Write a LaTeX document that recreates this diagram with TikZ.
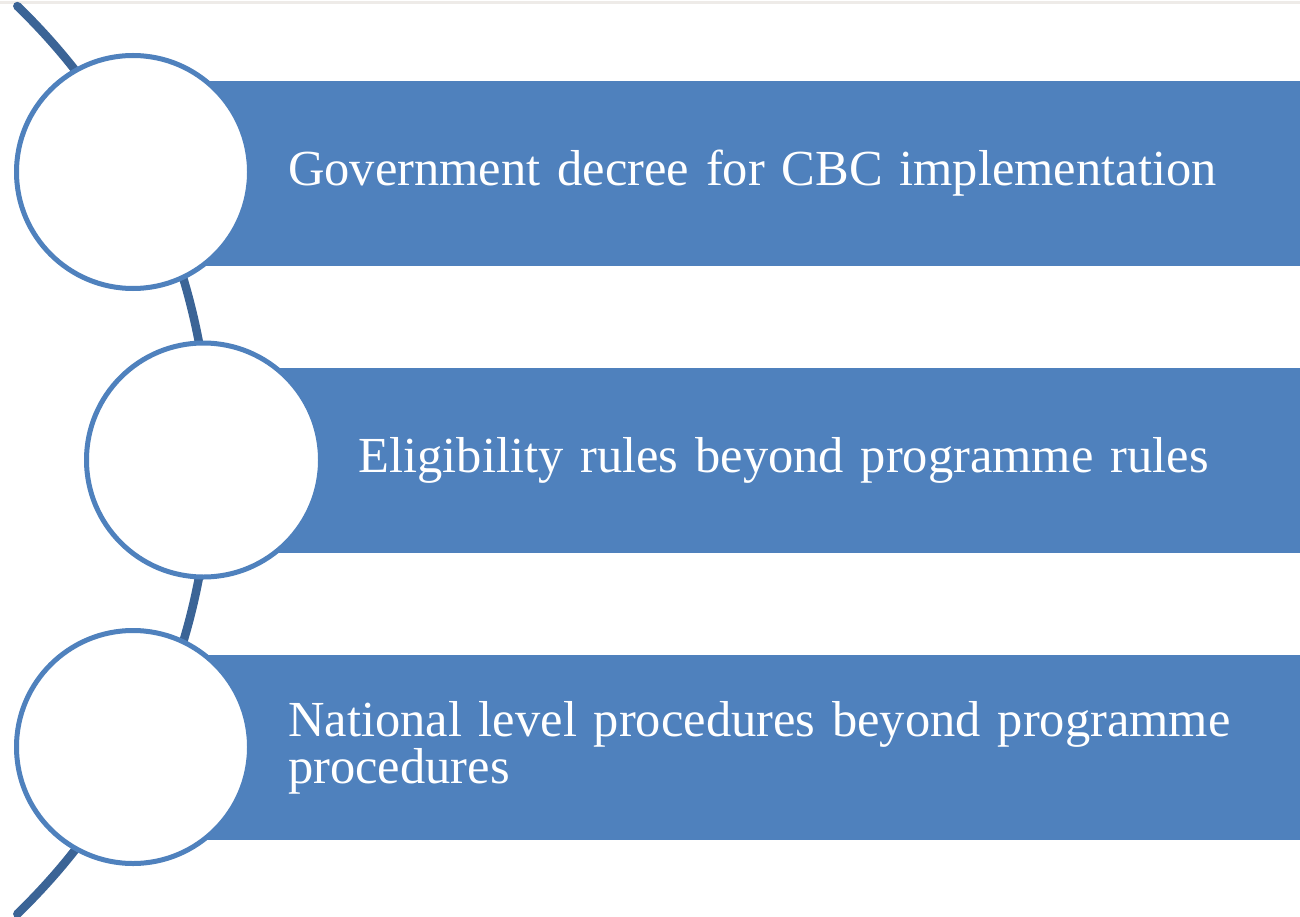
\documentclass[tikz,border=0pt]{standalone}
\usepackage{fontspec}
\setmainfont{Liberation Serif}[WordSpace=0.65]
\definecolor{barblue}{RGB}{79,129,189}
\definecolor{spineblue}{RGB}{59,100,150}
\definecolor{rulegrey}{RGB}{238,235,232}

\begin{document}
\begin{tikzpicture}[
  x=1pt, y=-1pt,
  bar/.style={fill=barblue, anchor=west, minimum height=185pt, inner sep=0pt},
  disc/.style={circle, draw=barblue, line width=5pt, fill=white, inner sep=0pt},
  itemtext/.style={anchor=west, text=white, text width=1000pt, align=left, inner sep=0pt,
    font=\fontsize{50.5}{47}\selectfont},
  spine/.style={draw=spineblue, line width=8.5pt, line cap=round},
]
  \useasboundingbox (0,0) rectangle (1300,917);
  % one item: #1 name, #2 x, #3 y, #4 text
  \newcommand{\listitem}[4]{%
    \node[bar, minimum width={1300-#2}] (bar#1) at (#2,#3) {};
    \node[itemtext] (txt#1) at ([xshift=155pt]bar#1.west) {#4};}
  \newcommand{\listdisc}[4]{% #1 name, #2 x, #3 y, #4 size
    \node[disc, minimum size=#4] (disc#1) at (#2,#3) {};}

  % thin rule at the top edge
  \draw[rulegrey, line width=3pt] (0,3) -- (1300,3);

  % the curved spine behind the circles
  \path[spine] (-421,460) ++(46:631) arc[start angle=46, end angle=-46, radius=631];

  % bars with their texts
  \listitem{1}{133}{173.5}{Government decree for CBC implementation}
  \listitem{2}{203.5}{460.5}{Eligibility rules beyond programme rules}
  \listitem{3}{133}{747.5}{National level procedures beyond programme procedures}

  % circles on top
  \listdisc{1}{133}{172}{233pt}
  \listdisc{2}{203.5}{460}{234pt}
  \listdisc{3}{133}{747}{233pt}
\end{tikzpicture}
\end{document}
